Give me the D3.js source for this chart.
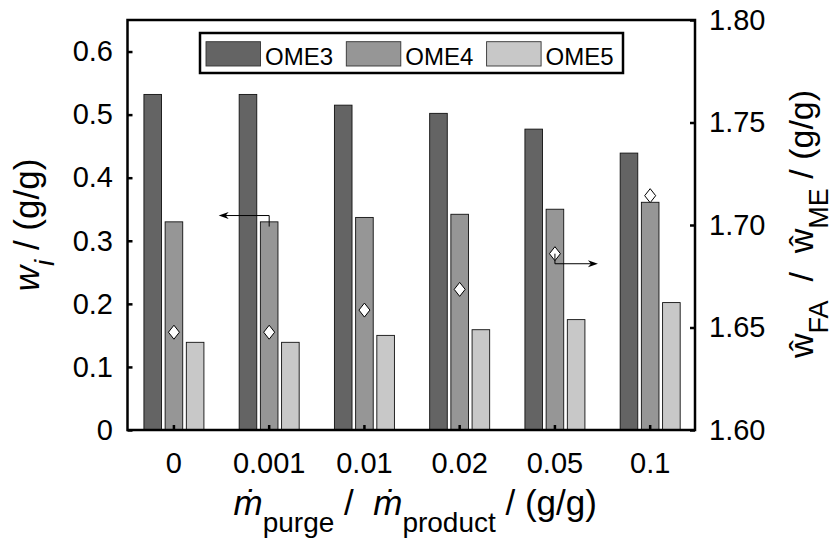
<!DOCTYPE html>
<html>
<head>
<meta charset="utf-8">
<script src="https://cdn.jsdelivr.net/npm/d3@7"></script>
<style>
body { margin: 0; background: #fff; }
svg { display: block; font-family: "Liberation Sans", Arial, sans-serif; }
text { white-space: pre; }
</style>
</head>
<body>
<svg id="chart" width="834" height="546"></svg>
<script>
// purge ratio categories (x axis)
const categories = ["0", "0.001", "0.01", "0.02", "0.05", "0.1"];
const seriesNames = ["OME3", "OME4", "OME5"];

// mass fractions w_i (left axis)
const ome3 = [0.532, 0.532, 0.515, 0.502, 0.477, 0.439];
const ome4 = [0.330, 0.330, 0.337, 0.342, 0.350, 0.361];
const ome5 = [0.139, 0.139, 0.150, 0.159, 0.175, 0.202];

// FA / ME ratio (right axis, diamonds)
const faMeRatio = [1.6477, 1.6477, 1.6585, 1.6686, 1.686, 1.7143];

const leftTicks = [0, 0.1, 0.2, 0.3, 0.4, 0.5, 0.6];
const rightTicks = [1.60, 1.65, 1.70, 1.75, 1.80];

const seriesColors = ["#646464", "#969696", "#c8c8c8"];

var svg = d3.select("#chart");
const plotLeft = 127.5, plotRight = 695, plotTop = 20, plotBottom = 430;

var x0 = d3.scaleBand().domain(categories).range([126.3, 697.8]);
var x1 = d3.scaleBand().domain(seriesNames).range([-30, 30]).paddingInner(0.17);
var yL = d3.scaleLinear().domain([0, 0.65]).range([plotBottom, plotTop]);
var yR = d3.scaleLinear().domain([1.6, 1.8]).range([plotBottom, plotTop]);

function cx(c) { return x0(c) + x0.bandwidth() / 2; }

// table of bars built from the series arrays
const table = [];
categories.forEach(function(c, i) {
    [ome3, ome4, ome5].forEach(function(arr, j) {
        table.push({cat: c, series: seriesNames[j], value: arr[i], color: seriesColors[j]});
    });
});

//bars
svg.append("g")
    .selectAll("rect")
    .data(table)
    .enter().append("rect")
    .attr("x", d => cx(d.cat) + x1(d.series))
    .attr("width", x1.bandwidth())
    .attr("y", d => yL(d.value))
    .attr("height", d => yL(0) - yL(d.value))
    .attr("fill", d => d.color)
    .attr("stroke", "#111")
    .attr("stroke-width", 0.9);

//axes
const tickFont = 29;
var axL = svg.append("g")
    .attr("transform", "translate(" + plotLeft + ",0)")
    .call(d3.axisLeft(yL).tickValues(leftTicks).tickSize(-5).tickSizeOuter(0).tickPadding(14.5)
        .tickFormat(d => d === 0 ? "0" : d3.format(".1f")(d)));
var axR = svg.append("g")
    .attr("transform", "translate(" + plotRight + ",0)")
    .call(d3.axisRight(yR).tickValues(rightTicks).tickSize(-5).tickSizeOuter(0).tickPadding(14)
        .tickFormat(d3.format(".2f")));
var axB = svg.append("g")
    .attr("transform", "translate(0," + plotBottom + ")")
    .call(d3.axisBottom(x0).tickSize(-5).tickSizeOuter(0).tickPadding(22));

[axL, axR, axB].forEach(function(ax) {
    ax.select(".domain").remove();
    ax.selectAll("line").attr("stroke", "#000").attr("stroke-width", 2.5);
    ax.selectAll("text").attr("fill", "#000").style("font-size", tickFont + "px")
        .style("font-family", '"Liberation Sans", Arial, sans-serif');
});

//box round the plot
svg.append("rect")
    .attr("x", plotLeft).attr("y", plotTop)
    .attr("width", plotRight - plotLeft).attr("height", plotBottom - plotTop)
    .attr("fill", "none").attr("stroke", "#000").attr("stroke-width", 2.5);

//diamonds for the ratio
svg.append("g")
    .selectAll("path")
    .data(faMeRatio)
    .enter().append("path")
    .attr("d", "M0,-7L5.5,0L0,7L-5.5,0Z")
    .attr("transform", (d, i) => "translate(" + cx(categories[i]) + "," + yR(d) + ")")
    .attr("fill", "#fff")
    .attr("stroke", "#000")
    .attr("stroke-width", 1);

//arrows pointing to the axis each series belongs to
function arrowHead(x, y, dir) {
    svg.append("path")
        .attr("d", "M0,0L-10,-3.5L-7,0L-10,3.5Z")
        .attr("transform", "translate(" + x + "," + y + ") scale(" + dir + ",1)")
        .attr("fill", "#000");
}
var lx = cx("0.001"), ly0 = yL(0.3225), ly1 = yL(0.34), lx1 = lx - 50.5;
svg.append("path")
    .attr("d", "M" + lx + "," + ly0 + "V" + ly1 + "H" + (lx1 + 6))
    .attr("fill", "none").attr("stroke", "#000").attr("stroke-width", 1);
arrowHead(lx1, ly1, -1);

var rx = cx("0.05"), ry0 = yR(faMeRatio[4]), ry1 = yR(1.6811), rx1 = rx + 43;
svg.append("path")
    .attr("d", "M" + rx + "," + ry0 + "V" + ry1 + "H" + (rx1 - 6))
    .attr("fill", "none").attr("stroke", "#000").attr("stroke-width", 1);
arrowHead(rx1, ry1, 1);

//legend
var legend = svg.append("g");
legend.append("rect")
    .attr("x", 200).attr("y", 33).attr("width", 423).attr("height", 40)
    .attr("fill", "#fff").attr("stroke", "#000").attr("stroke-width", 2.5);
var item = legend.selectAll("g.item")
    .data(seriesNames)
    .enter().append("g")
    .attr("class", "item")
    .attr("transform", (d, i) => "translate(" + (206 + i * 140.3) + ",0)");
item.append("rect")
    .attr("x", 0).attr("y", 41.7).attr("width", 54.5).attr("height", 24.3)
    .attr("fill", (d, i) => seriesColors[i])
    .attr("stroke", "#333").attr("stroke-width", 0.9);
item.append("text")
    .attr("x", 59).attr("y", 65)
    .style("font-size", "24px")
    .text(d => d);

//axis labels
const labFont = 35, subFont = 28, subDrop = 17;

var xl = svg.append("text")
    .attr("x", (plotLeft + plotRight) / 2 + 4).attr("y", 515)
    .attr("text-anchor", "middle")
    .style("font-size", labFont + "px");
xl.append("tspan").style("font-style", "italic").text("\u1E41");
xl.append("tspan").attr("dy", subDrop).style("font-size", subFont + "px").text("purge");
xl.append("tspan").attr("dy", -subDrop).text(" /  ");
xl.append("tspan").style("font-style", "italic").text("\u1E41");
xl.append("tspan").attr("dy", subDrop).style("font-size", subFont + "px").text("product");
xl.append("tspan").attr("dy", -subDrop).text(" / (g/g)");

var yl = svg.append("text")
    .attr("transform", "translate(39," + (plotTop + plotBottom) / 2 + ") rotate(-90)")
    .attr("text-anchor", "middle")
    .style("font-size", labFont + "px");
yl.append("tspan").style("font-style", "italic").text("w");
yl.append("tspan").attr("dy", 15).style("font-size", subFont + "px").style("font-style", "italic").text("i");
yl.append("tspan").attr("dy", -15).text(" / (g/g)");

var yr = svg.append("text")
    .attr("transform", "translate(813," + ((plotTop + plotBottom) / 2 - 1) + ") rotate(-90)")
    .attr("text-anchor", "middle")
    .style("font-size", "34px");
yr.append("tspan").text("\u0175");
yr.append("tspan").attr("dy", 15).style("font-size", "27px").text("FA");
yr.append("tspan").attr("dy", -15).text("  /  ");
yr.append("tspan").text("\u0175");
yr.append("tspan").attr("dy", 15).style("font-size", "27px").text("ME");
yr.append("tspan").attr("dy", -15).text(" / (g/g)");
</script>
</body>
</html>
